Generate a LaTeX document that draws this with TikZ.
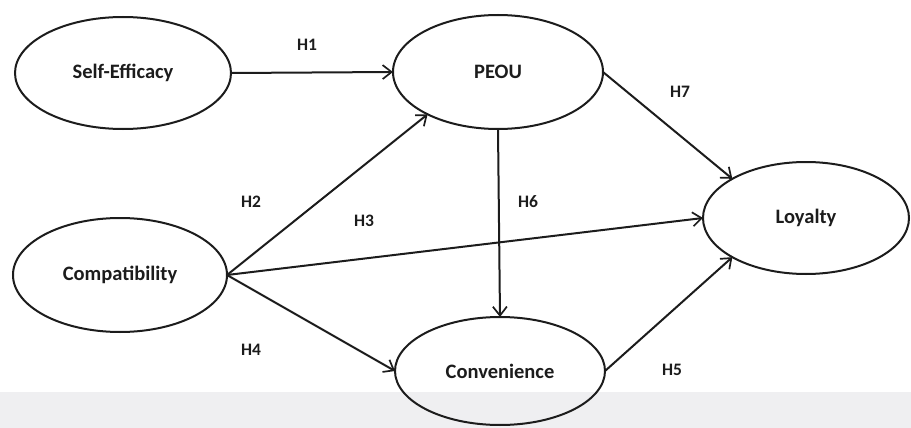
\documentclass[tikz,border=0pt]{standalone}
\usepackage{fontspec}
\setmainfont{Carlito}
\usetikzlibrary{arrows.meta,shapes.geometric}
\definecolor{ink}{HTML}{1C1C1C}
\definecolor{band}{HTML}{EFEFF1}
\begin{document}
\begin{tikzpicture}[x=1pt,y=-1pt,
  construct/.style={ellipse, draw=ink, line width=2pt, inner sep=0pt, outer sep=0pt,
    font=\fontsize{20.5}{24}\selectfont\bfseries, text=ink},
  path/.style={draw=ink, line width=2pt, -{Straight Barb[length=9pt,width=14pt,line width=1.7pt]}},
  hyp/.style={font=\fontsize{17.5}{20}\selectfont\bfseries, text=ink}]
  \useasboundingbox (0,0) rectangle (911,428);
  % light strip along the lower edge
  \fill[band] (0,392) rectangle (911,428);

  % constructs
  \node[construct, minimum width=216pt, minimum height=112pt] (se)   at (123,73)  {Self-Efficacy};
  \node[construct, minimum width=210pt, minimum height=114pt] (peou) at (498,72)  {PEOU};
  \node[construct, minimum width=214pt, minimum height=114pt] (comp) at (120,275) {Compatibility};
  \node[construct, minimum width=210pt, minimum height=108pt] (conv) at (500,371) {Convenience};
  \node[construct, minimum width=206pt, minimum height=112pt] (loy)  at (806,218) {Loyalty};

  % hypothesised paths
  \draw[path] (se.east)   -- (peou.west);
  \draw[path] (comp.east) -- (peou.211);
  \draw[path] (comp.east) -- (loy.west);
  \draw[path] (comp.east) -- (conv.west);
  \draw[path] (conv.east) -- (loy.208);
  \draw[path] (peou.south) -- (conv.north);
  \draw[path] (peou.east) -- (loy.152);

  % path labels
  \node[hyp] (h1) at (307,45)  {H1};
  \node[hyp] (h2) at (251,202) {H2};
  \node[hyp] (h3) at (364,221) {H3};
  \node[hyp] (h4) at (251,350) {H4};
  \node[hyp] (h5) at (672,370) {H5};
  \node[hyp] (h6) at (528,202) {H6};
  \node[hyp] (h7) at (680,92)  {H7};
\end{tikzpicture}
\end{document}
